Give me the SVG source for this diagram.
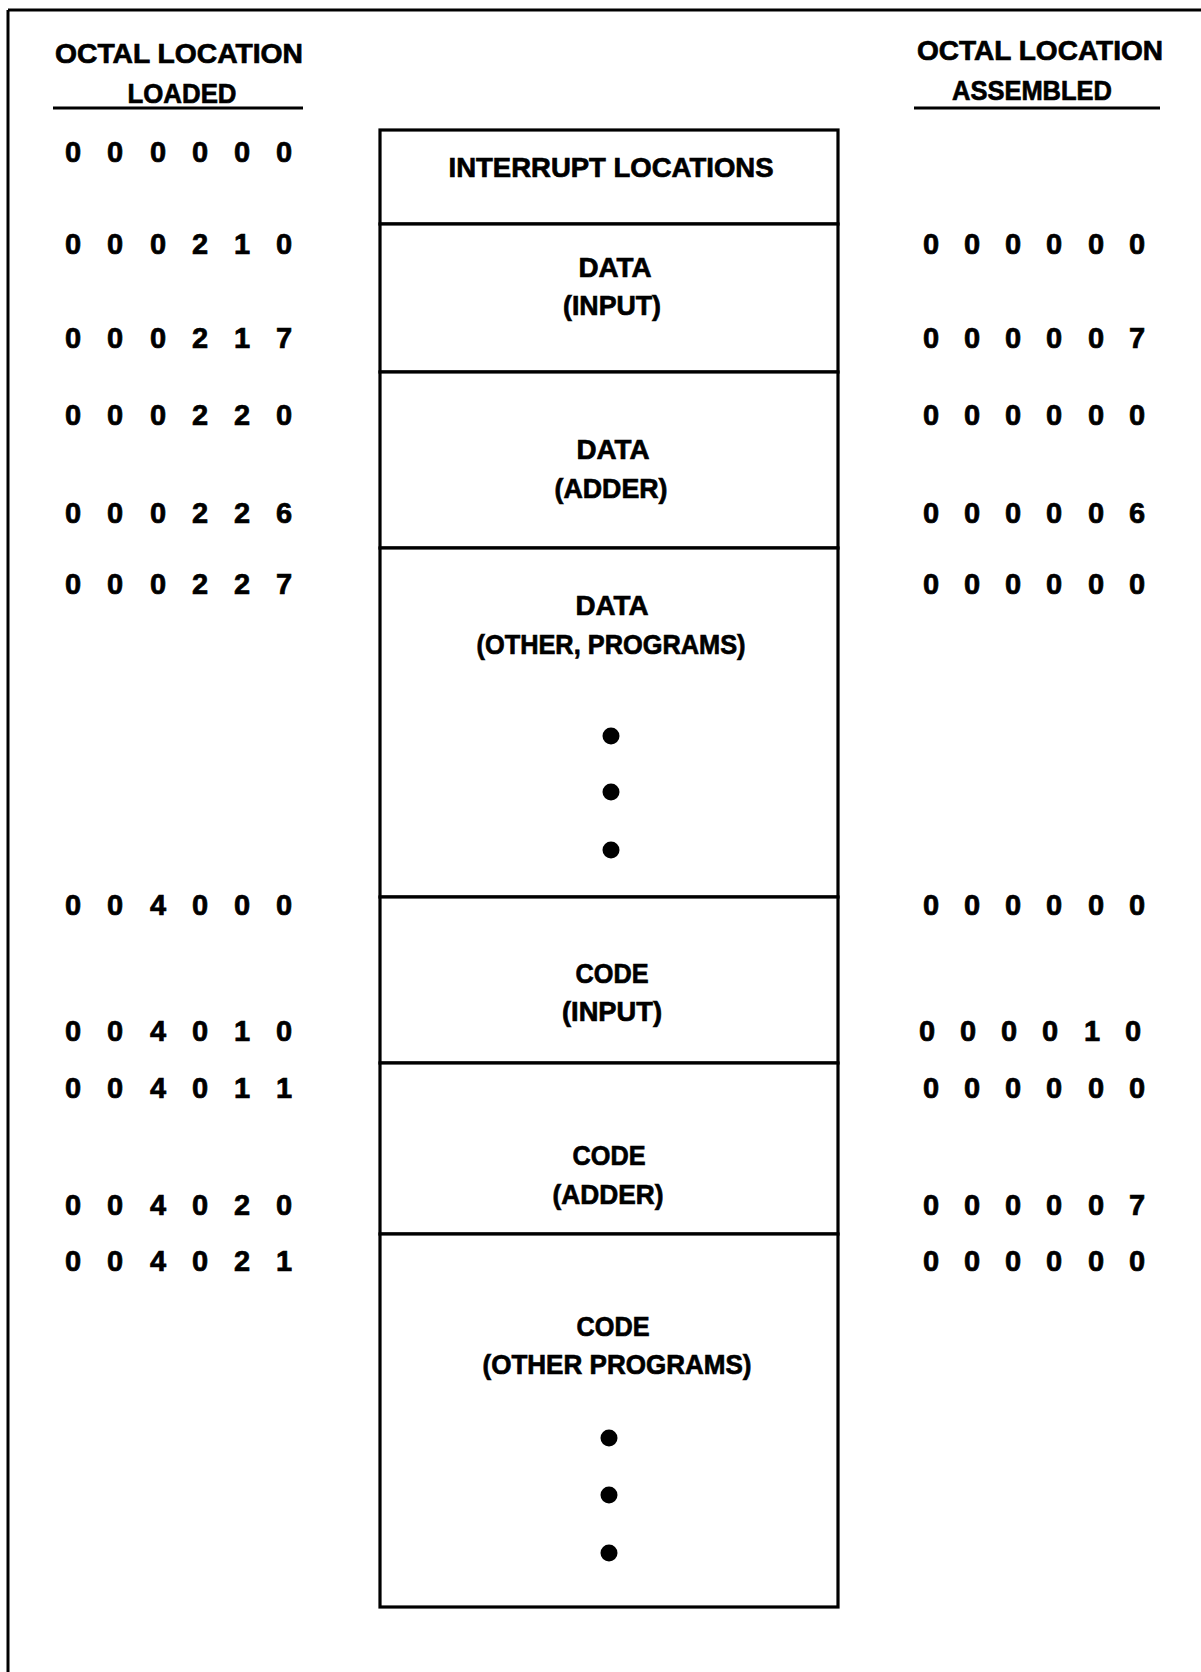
<svg xmlns="http://www.w3.org/2000/svg" width="1201" height="1672" viewBox="0 0 1201 1672">
<style>
  .t { font-family: "Liberation Sans", Arial, sans-serif; font-weight: bold; font-size: 28px; fill: #000; stroke: #000; stroke-width: 0.7; text-anchor: middle; }
  .n { font-size: 29px; }
  .seg { fill: #fff; stroke: #000; stroke-width: 3.2; }
  .rule { stroke: #000; stroke-width: 3; fill: none; }
  .dot { fill: #000; }
</style>
<rect x="0" y="0" width="1201" height="1672" fill="#fff"/>
<g id="frame">
  <line class="rule" x1="8" y1="10" x2="1201" y2="10"/>
  <line class="rule" x1="8" y1="10" x2="8" y2="1672"/>
</g>
<g id="header-loaded">
  <text class="t" x="179" y="63" textLength="248" lengthAdjust="spacingAndGlyphs">OCTAL LOCATION</text>
  <text class="t" x="182" y="103" textLength="109" lengthAdjust="spacingAndGlyphs">LOADED</text>
  <line class="rule" x1="53" y1="108" x2="303" y2="108"/>
</g>
<g id="header-assembled">
  <text class="t" x="1040" y="60" textLength="246" lengthAdjust="spacingAndGlyphs">OCTAL LOCATION</text>
  <text class="t" x="1032" y="100" textLength="160" lengthAdjust="spacingAndGlyphs">ASSEMBLED</text>
  <line class="rule" x1="914" y1="108" x2="1160" y2="108"/>
</g>
<g id="seg-interrupt">
  <rect class="seg" x="380" y="130" width="458" height="94"/>
  <text class="t" x="611" y="177" textLength="325" lengthAdjust="spacingAndGlyphs">INTERRUPT LOCATIONS</text>
</g>
<g id="seg-data-input">
  <rect class="seg" x="380" y="224" width="458" height="148"/>
  <text class="t" x="615" y="277" textLength="73" lengthAdjust="spacingAndGlyphs">DATA</text>
  <text class="t" x="612" y="315" textLength="98" lengthAdjust="spacingAndGlyphs">(INPUT)</text>
</g>
<g id="seg-data-adder">
  <rect class="seg" x="380" y="372" width="458" height="176"/>
  <text class="t" x="613" y="459" textLength="73" lengthAdjust="spacingAndGlyphs">DATA</text>
  <text class="t" x="611" y="498" textLength="113" lengthAdjust="spacingAndGlyphs">(ADDER)</text>
</g>
<g id="seg-data-other">
  <rect class="seg" x="380" y="548" width="458" height="349"/>
  <text class="t" x="612" y="615" textLength="73" lengthAdjust="spacingAndGlyphs">DATA</text>
  <text class="t" x="611" y="654" textLength="269" lengthAdjust="spacingAndGlyphs">(OTHER, PROGRAMS)</text>
  <circle class="dot" cx="611" cy="736" r="8.5"/>
  <circle class="dot" cx="611" cy="792" r="8.5"/>
  <circle class="dot" cx="611" cy="850" r="8.5"/>
</g>
<g id="seg-code-input">
  <rect class="seg" x="380" y="897" width="458" height="166"/>
  <text class="t" x="612" y="983" textLength="73" lengthAdjust="spacingAndGlyphs">CODE</text>
  <text class="t" x="612" y="1021" textLength="100" lengthAdjust="spacingAndGlyphs">(INPUT)</text>
</g>
<g id="seg-code-adder">
  <rect class="seg" x="380" y="1063" width="458" height="171"/>
  <text class="t" x="609" y="1165" textLength="73" lengthAdjust="spacingAndGlyphs">CODE</text>
  <text class="t" x="608" y="1204" textLength="111" lengthAdjust="spacingAndGlyphs">(ADDER)</text>
</g>
<g id="seg-code-other">
  <rect class="seg" x="380" y="1234" width="458" height="373"/>
  <text class="t" x="613" y="1336" textLength="73" lengthAdjust="spacingAndGlyphs">CODE</text>
  <text class="t" x="617" y="1374" textLength="269" lengthAdjust="spacingAndGlyphs">(OTHER PROGRAMS)</text>
  <circle class="dot" cx="609" cy="1438" r="8.5"/>
  <circle class="dot" cx="609" cy="1495" r="8.5"/>
  <circle class="dot" cx="609" cy="1553" r="8.5"/>
</g>
<g id="loaded-addresses">
  <text class="t n" x="73 115 158 200 242 284" y="162">000000</text>
  <text class="t n" x="73 115 158 200 242 284" y="254">000210</text>
  <text class="t n" x="73 115 158 200 242 284" y="348">000217</text>
  <text class="t n" x="73 115 158 200 242 284" y="425">000220</text>
  <text class="t n" x="73 115 158 200 242 284" y="523">000226</text>
  <text class="t n" x="73 115 158 200 242 284" y="594">000227</text>
  <text class="t n" x="73 115 158 200 242 284" y="915">004000</text>
  <text class="t n" x="73 115 158 200 242 284" y="1041">004010</text>
  <text class="t n" x="73 115 158 200 242 284" y="1098">004011</text>
  <text class="t n" x="73 115 158 200 242 284" y="1215">004020</text>
  <text class="t n" x="73 115 158 200 242 284" y="1271">004021</text>
</g>
<g id="assembled-addresses">
  <text class="t n" x="931 972 1013 1054 1096 1137" y="254">000000</text>
  <text class="t n" x="931 972 1013 1054 1096 1137" y="348">000007</text>
  <text class="t n" x="931 972 1013 1054 1096 1137" y="425">000000</text>
  <text class="t n" x="931 972 1013 1054 1096 1137" y="523">000006</text>
  <text class="t n" x="931 972 1013 1054 1096 1137" y="594">000000</text>
  <text class="t n" x="931 972 1013 1054 1096 1137" y="915">000000</text>
  <text class="t n" x="927 968 1009 1050 1092 1133" y="1041">000010</text>
  <text class="t n" x="931 972 1013 1054 1096 1137" y="1098">000000</text>
  <text class="t n" x="931 972 1013 1054 1096 1137" y="1215">000007</text>
  <text class="t n" x="931 972 1013 1054 1096 1137" y="1271">000000</text>
</g>
<g id="connectors"></g>
</svg>
